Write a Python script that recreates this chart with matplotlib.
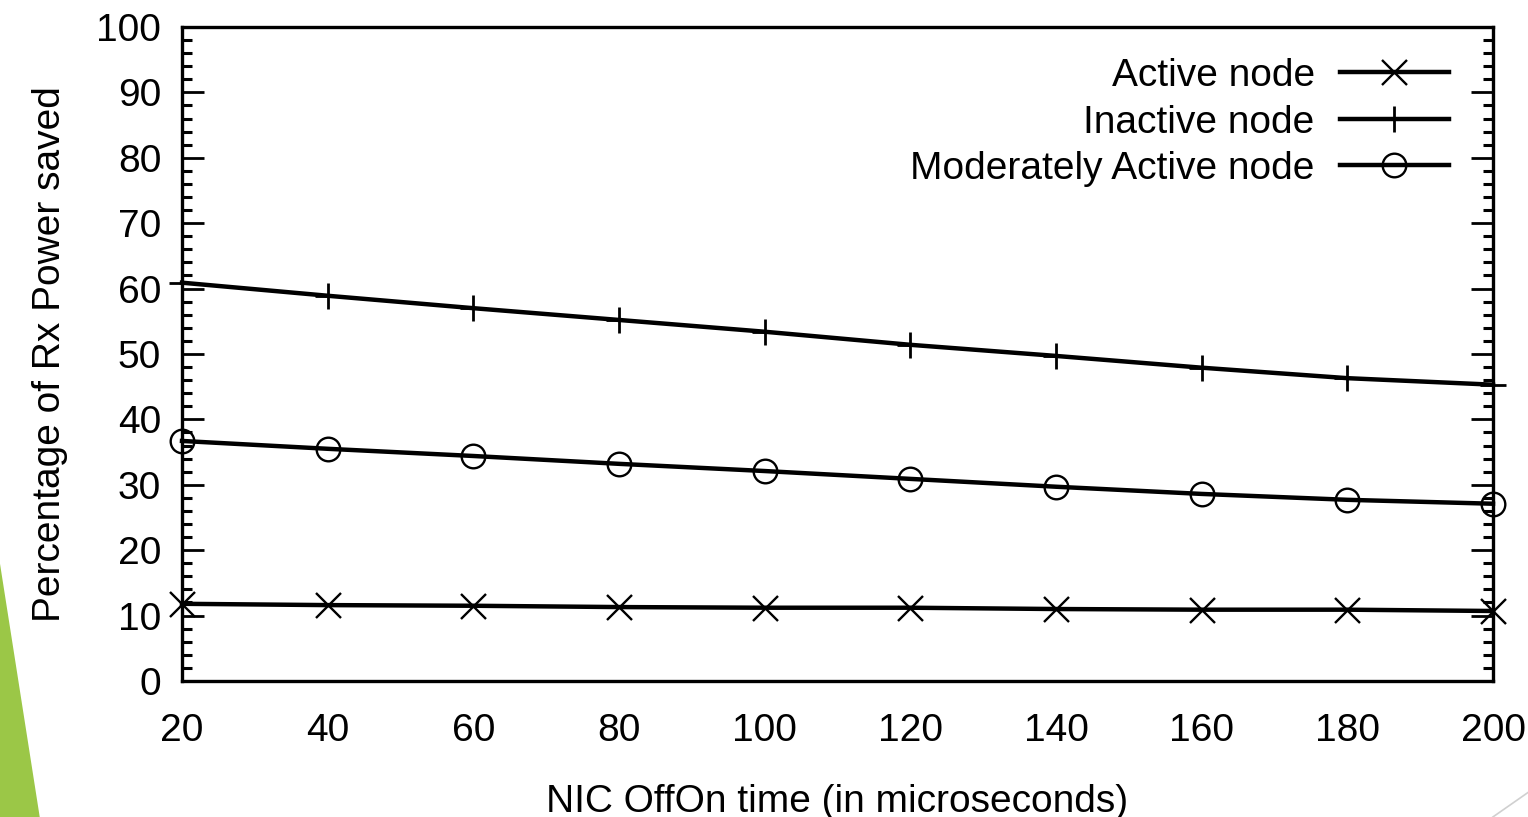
import matplotlib.pyplot as plt
from matplotlib.patches import Polygon
from matplotlib.lines import Line2D
from matplotlib.ticker import MultipleLocator

plt.rcParams['font.family'] = ['Liberation Sans', 'DejaVu Sans']

# data
offon_time = [20, 40, 60, 80, 100, 120, 140, 160, 180, 200]
active = [11.8, 11.6, 11.5, 11.3, 11.2, 11.2, 11.0, 10.9, 10.9, 10.7]
inactive = [60.9, 58.9, 57.0, 55.2, 53.4, 51.4, 49.7, 47.9, 46.3, 45.3]
moderate = [36.7, 35.5, 34.4, 33.2, 32.1, 30.9, 29.7, 28.6, 27.7, 27.1]
xticks = [20, 40, 60, 80, 100, 120, 140, 160, 180, 200]
yticks = [0, 10, 20, 30, 40, 50, 60, 70, 80, 90, 100]

fs = 28

fig = plt.figure(figsize=(15.28, 8.17), dpi=100)

# slide decoration: green wedge bottom-left, faint line bottom-right
fig.patches.append(Polygon([(0, 0), (0, 0.31), (0.026, 0)], closed=True,
                           transform=fig.transFigure, facecolor='#9BC747',
                           edgecolor='none', zorder=0))
fig.lines.append(Line2D([0.977, 1.0], [0.0, 0.03], transform=fig.transFigure,
                        color='#d0d0d0', lw=1.2))

ax = fig.add_axes([0.1191, 0.1665, 0.858, 0.8005])

lw = 3.2
ax.plot(offon_time, active, color='black', lw=lw, marker='x', ms=18, mew=1.7,
        label='Active node', clip_on=False)
ax.plot(offon_time, inactive, color='black', lw=lw, marker='+', ms=19, mew=2.0,
        label='Inactive node', clip_on=False)
ax.plot(offon_time, moderate, color='black', lw=lw, marker='o', ms=17, mew=1.7,
        mfc='none', label='Moderately Active node', clip_on=False)

ax.set_xlim(20, 200)
ax.set_ylim(0, 100)
ax.set_xticks(xticks)
ax.set_yticks(yticks)
ax.yaxis.set_minor_locator(MultipleLocator(2))

for s in ax.spines.values():
    s.set_linewidth(2.4)

ax.tick_params(axis='x', length=0, pad=23, labelsize=fs)
ax.tick_params(axis='y', which='major', direction='in', length=16, width=2,
               left=True, right=True, pad=15, labelsize=fs)
ax.tick_params(axis='y', which='minor', direction='in', length=7, width=2.2,
               left=True, right=True)

ax.set_xlabel('NIC OffOn time (in microseconds)', fontsize=fs, labelpad=25)
ax.set_ylabel('Percentage of Rx Power saved', fontsize=fs, labelpad=20)

ax.legend(loc='upper right', frameon=False, markerfirst=False, fontsize=fs,
          handlelength=2.8, handletextpad=0.65, labelspacing=0.27,
          borderaxespad=0.5, bbox_to_anchor=(0.993, 1.006))

fig.savefig('out.png', dpi=100)
